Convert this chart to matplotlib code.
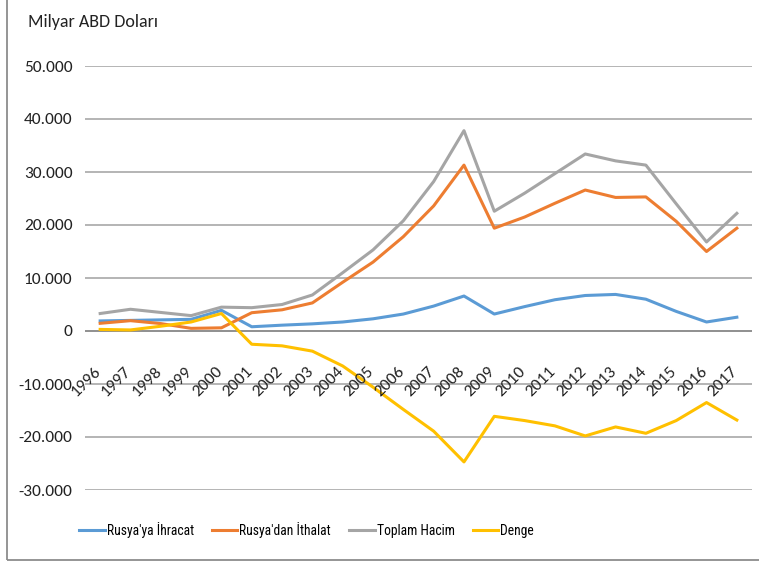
import matplotlib
matplotlib.use("Agg")
import matplotlib.pyplot as plt
from matplotlib.lines import Line2D
from matplotlib.patches import Rectangle
from matplotlib.ticker import FuncFormatter
import matplotlib.transforms as mtransforms

plt.rcParams["font.family"] = ["Carlito", "Lato", "DejaVu Sans"]
LEG_FONT = ["Roboto Condensed", "Carlito", "DejaVu Sans"]

years = list(range(1996, 2018))
ihracat = [1900, 2000, 2100, 2200, 3900, 800, 1100, 1350, 1700, 2300, 3200, 4700,
           6600, 3200, 4600, 5900, 6700, 6900, 6000, 3700, 1700, 2600]
ithalat = [1450, 1950, 1400, 500, 600, 3450, 4000, 5300, 9200, 13000, 17800, 23600,
           31300, 19400, 21500, 24100, 26600, 25200, 25300, 20700, 15000, 19400]
hacim = [3300, 4100, 3500, 2900, 4500, 4400, 5000, 6800, 11000, 15300, 20800, 28200,
         37800, 22600, 26000, 29700, 33400, 32100, 31300, 24000, 16800, 22200]
denge = [300, 200, 900, 1700, 3300, -2500, -2800, -3800, -6600, -10600, -14800, -18900,
         -24700, -16100, -16900, -17900, -19800, -18100, -19300, -16900, -13500, -16800]

series = [
    ("Rusya'ya İhracat", ihracat, "#5B9BD5"),
    ("Rusya'dan İthalat", ithalat, "#ED7D31"),
    ("Toplam Hacim", hacim, "#A5A5A5"),
    ("Denge", denge, "#FFC000"),
]

fig = plt.figure(figsize=(7.59, 5.65), dpi=100)
ax = fig.add_axes([85 / 759, 1 - 490 / 565, (752 - 85) / 759, (490 - 66) / 565])

for name, vals, col in series:
    ax.plot(years, vals, color=col, lw=2.2, label=name)

ax.set_xlim(1995.5, 2017.5)
ax.set_ylim(-30000, 50000)
ax.set_yticks(range(-30000, 50001, 10000))
ax.yaxis.set_major_formatter(FuncFormatter(lambda v, p: f"{int(v):,}".replace(",", ".")))
ax.tick_params(axis="y", length=0, pad=9, labelsize=12.5, labelcolor="#222222")
ax.set_xticks([])
ax.grid(axis="y", color="#a0a0a0", lw=1.1)
ax.axhline(0, color="#888888", lw=1.1, zorder=1)
ax.set_axisbelow(True)
for s in ax.spines.values():
    s.set_visible(False)

# yıl etiketleri sıfır çizgisinin altında, eğik
off = mtransforms.offset_copy(ax.transData, fig=fig, x=2.5, y=-24, units="points")
for yr in years:
    ax.text(yr, 0, str(yr), rotation=45, ha="right", va="top", fontsize=12.5,
            color="#222222", transform=off)

fig.text(28 / 759, 1 - 22 / 565, "Milyar ABD Doları", fontsize=13, va="center",
         color="#222222")

handles = [Line2D([], [], color=c, lw=2.2) for _, _, c in series]
fig.legend(handles, [n for n, _, _ in series], loc="center", ncol=4, frameon=False,
           bbox_to_anchor=(0.404, 1 - 530 / 565), handlelength=1.85,
           handletextpad=0.15, columnspacing=1.35,
           prop={"family": LEG_FONT, "size": 9.8, "stretch": "condensed"})

# dış çerçeve: yalnız sol ve alt kenar görünür
fig.add_artist(Rectangle((7 / 759, 1 - 560 / 565), 1.0, 1.0, fill=False,
                         edgecolor="#8c8c8c", lw=1.3, transform=fig.transFigure))

fig.savefig("out.png", dpi=100, facecolor="white")
